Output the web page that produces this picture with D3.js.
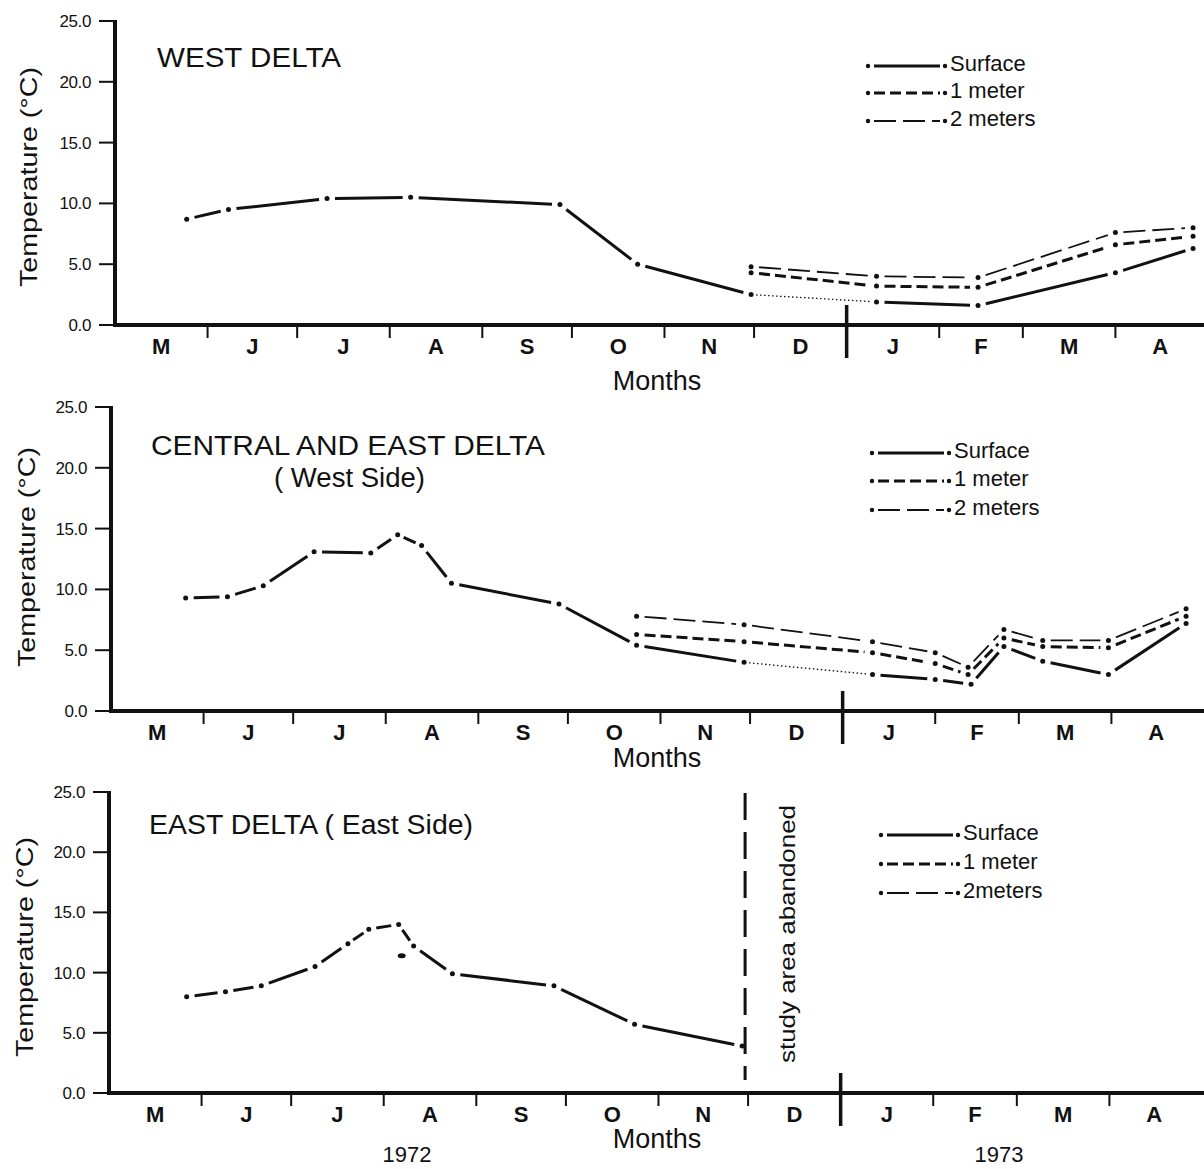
<!doctype html>
<html>
<head>
<meta charset="utf-8">
<title>Water temperature by depth</title>
<script src="https://cdnjs.cloudflare.com/ajax/libs/d3/7.8.5/d3.min.js"></script>
<style>
  html, body { margin: 0; padding: 0; background: #fff; }
  svg text { font-family: "Liberation Sans", Arial, sans-serif; fill: #111; }
</style>
</head>
<body>
<div id="chart"></div>
<script>
// ---- data ----
var monthLetters = ["M", "J", "J", "A", "S", "O", "N", "D", "J", "F", "M", "A"];
var tempTicks = [0, 5, 10, 15, 20, 25];
var yearLabels = ["1972", "1973"];

// west delta
var westSurfDates = ["1972-05-25", "1972-06-08", "1972-07-11", "1972-08-08", "1972-09-27", "1972-10-23",
                     "1972-11-30", "1973-01-11", "1973-02-14", "1973-04-01", "1973-04-27"];
var westSurf = [8.7, 9.5, 10.4, 10.5, 9.9, 5.0, 2.5, 1.9, 1.6, 4.3, 6.3];
var westSurfDotted = [6];   // segment index drawn dotted
var westDeepDates = ["1972-11-30", "1973-01-11", "1973-02-14", "1973-04-01", "1973-04-27"];
var west1m = [4.3, 3.2, 3.1, 6.6, 7.3];
var west2m = [4.8, 4.0, 3.9, 7.6, 8.0];

// central and east delta (west side)
var centSurfDates = ["1972-05-26", "1972-06-09", "1972-06-21", "1972-07-08", "1972-07-27", "1972-08-05",
                     "1972-08-13", "1972-08-23", "1972-09-28", "1972-10-24", "1972-11-29", "1973-01-11",
                     "1973-02-01", "1973-02-13", "1973-02-24", "1973-03-09", "1973-03-31", "1973-04-26"];
var centSurf = [9.3, 9.4, 10.3, 13.1, 13.0, 14.5, 13.6, 10.5, 8.8, 5.4, 4.0, 3.0, 2.6, 2.2, 5.3, 4.1, 3.0, 7.2];
var centSurfDotted = [10];
var centDeepDates = ["1972-10-24", "1972-11-29", "1973-01-11", "1973-02-01", "1973-02-12",
                     "1973-02-24", "1973-03-09", "1973-03-31", "1973-04-26"];
var cent1m = [6.3, 5.7, 4.8, 3.9, 3.0, 6.0, 5.3, 5.2, 7.8];
var cent2m = [7.8, 7.1, 5.7, 4.8, 3.6, 6.7, 5.8, 5.8, 8.4];

// east delta (east side)
var eastSurfDates = ["1972-05-27", "1972-06-09", "1972-06-21", "1972-07-09", "1972-07-20", "1972-07-27",
                     "1972-08-06", "1972-08-11", "1972-08-24", "1972-09-27", "1972-10-24", "1972-11-29"];
var eastSurf = [8.0, 8.4, 8.9, 10.5, 12.4, 13.6, 14.0, 12.2, 9.9, 8.9, 5.7, 3.9];
var eastStrayDate = ["1972-08-07"];
var eastStray = [11.4];
var abandonedDate = "1972-11-30";

// ---- drawing ----
var W = 1204, H = 1169;
var parse = d3.timeParse("%Y-%m-%d");
var start = new Date(1972, 4, 1), end = new Date(1973, 4, 1), jan = new Date(1973, 0, 1);

// line styles for the three depths
var styles = {
    surface: { width: 3, dash: null },
    m1: { width: 3, dash: "11 5" },
    m2: { width: 1.8, dash: "22 7" }
};

function series(dates, temps, style, dotted) {
    return {
        pts: dates.map(function (d, i) { return { date: parse(d), t: temps[i] }; }),
        style: style,
        dotted: dotted || []
    };
}

var svg = d3.select("#chart").append("svg")
    .attr("width", W).attr("height", H);
svg.append("rect").attr("width", W).attr("height", H).attr("fill", "#fff");

var panels = [
    {
        x0: 115, top: 21, bot: 325,
        title: [{ text: "WEST  DELTA", x: 157, y: 67, len: 184 }],
        legend: { x: 868, ys: [63, 90, 118], names: ["Surface", "1 meter", "2 meters"] },
        ylabelX: 37, ylabelY: 177,
        monthsY: 390,
        series: [
            series(westSurfDates, westSurf, "surface", westSurfDotted),
            series(westDeepDates, west1m, "m1"),
            series(westDeepDates, west2m, "m2")
        ]
    },
    {
        x0: 111, top: 407, bot: 711,
        title: [{ text: "CENTRAL  AND  EAST  DELTA", x: 151, y: 455, len: 394 },
                { text: "( West  Side)", x: 274, y: 487, len: 151 }],
        legend: { x: 872, ys: [450, 478, 507], names: ["Surface", "1 meter", "2 meters"] },
        ylabelX: 35, ylabelY: 557,
        monthsY: 767,
        series: [
            series(centSurfDates, centSurf, "surface", centSurfDotted),
            series(centDeepDates, cent1m, "m1"),
            series(centDeepDates, cent2m, "m2")
        ]
    },
    {
        x0: 109, top: 792, bot: 1093,
        title: [{ text: "EAST  DELTA  ( East  Side)", x: 149, y: 834, len: 324 }],
        legend: { x: 881, ys: [832, 861, 890], names: ["Surface", "1 meter", "2meters"] },
        ylabelX: 33, ylabelY: 947,
        monthsY: 1148,
        series: [series(eastSurfDates, eastSurf, "surface")],
        stray: { dates: eastStrayDate, temps: eastStray },
        abandoned: true,
        years: true
    }
];

panels.forEach(function (p) {
    var g = svg.append("g");
    var x = d3.scaleTime().domain([start, end]).range([p.x0, p.x0 + 1090]);
    var y = d3.scaleLinear().domain([0, 25]).range([p.bot, p.top]);

    // y axis
    g.append("line").attr("x1", p.x0).attr("x2", p.x0).attr("y1", p.top - 1).attr("y2", p.bot + 2)
        .attr("stroke", "#111").attr("stroke-width", 4);
    g.selectAll(".yt").data(tempTicks).enter().append("line")
        .attr("x1", p.x0 - 16).attr("x2", p.x0)
        .attr("y1", function (d) { return y(d); }).attr("y2", function (d) { return y(d); })
        .attr("stroke", "#111").attr("stroke-width", 2);
    g.selectAll(".yl").data(tempTicks).enter().append("text")
        .attr("x", p.x0 - 24).attr("y", function (d) { return y(d) + 6; })
        .attr("text-anchor", "end").attr("font-size", 17).attr("letter-spacing", -0.4)
        .text(d3.format(".1f"));

    // x axis
    g.append("line").attr("x1", p.x0 - 2).attr("x2", W).attr("y1", p.bot).attr("y2", p.bot)
        .attr("stroke", "#111").attr("stroke-width", 4);
    var monthStarts = d3.timeMonth.range(start, end);
    g.selectAll(".xt").data(monthStarts.slice(1).filter(function (d) { return +d !== +jan; }))
        .enter().append("line")
        .attr("x1", function (d) { return x(d); }).attr("x2", function (d) { return x(d); })
        .attr("y1", p.bot).attr("y2", p.bot + 13)
        .attr("stroke", "#111").attr("stroke-width", 2);
    g.append("line").attr("x1", x(jan)).attr("x2", x(jan))
        .attr("y1", p.bot - 20).attr("y2", p.bot + 33)
        .attr("stroke", "#111").attr("stroke-width", 3.5);
    g.selectAll(".xl").data(monthStarts).enter().append("text")
        .attr("x", function (d) { return (x(d) + x(d3.timeMonth.offset(d, 1))) / 2; })
        .attr("y", p.bot + 29)
        .attr("text-anchor", "middle").attr("font-size", 22).attr("font-weight", "bold")
        .text(function (d, i) { return monthLetters[i]; });
    g.append("text").attr("x", 657).attr("y", p.monthsY)
        .attr("text-anchor", "middle").attr("font-size", 27).text("Months");

    // y label
    g.append("text")
        .attr("transform", "translate(" + p.ylabelX + "," + p.ylabelY + ") rotate(-90)")
        .attr("text-anchor", "middle").attr("font-size", 24)
        .attr("textLength", 220).attr("lengthAdjust", "spacingAndGlyphs")
        .text("Temperature  (\u00B0C)");

    // title
    p.title.forEach(function (t) {
        g.append("text").attr("x", t.x).attr("y", t.y).attr("font-size", 27)
            .attr("textLength", t.len).attr("lengthAdjust", "spacingAndGlyphs")
            .text(t.text);
    });

    // legend
    ["surface", "m1", "m2"].forEach(function (k, i) {
        var ly = p.legend.ys[i], lx = p.legend.x, st = styles[k];
        g.append("circle").attr("cx", lx).attr("cy", ly + 3).attr("r", 2.2).attr("fill", "#111");
        g.append("line").attr("x1", lx + 6).attr("x2", lx + 72).attr("y1", ly + 3).attr("y2", ly + 3)
            .attr("stroke", "#111").attr("stroke-width", st.width)
            .attr("stroke-dasharray", st.dash);
        g.append("circle").attr("cx", lx + 77).attr("cy", ly + 3).attr("r", 2.2).attr("fill", "#111");
        g.append("text").attr("x", lx + 82).attr("y", ly + 8).attr("font-size", 22)
            .text(p.legend.names[i]);
    });

    // series: dots at observations, line pieces stopping short of each dot
    p.series.forEach(function (s) {
        var st = styles[s.style];
        var xy = s.pts.map(function (d) { return [x(d.date), y(d.t)]; });
        for (var i = 0; i < xy.length - 1; i++) {
            var a = xy[i], b = xy[i + 1];
            var dx = b[0] - a[0], dy = b[1] - a[1], len = Math.sqrt(dx * dx + dy * dy);
            var dotted = s.dotted.indexOf(i) >= 0;
            var gap = dotted ? 5 : Math.min(8, len / 4);
            var ux = dx / len, uy = dy / len;
            g.append("line")
                .attr("x1", a[0] + ux * gap).attr("y1", a[1] + uy * gap)
                .attr("x2", b[0] - ux * gap).attr("y2", b[1] - uy * gap)
                .attr("stroke", "#111")
                .attr("stroke-width", dotted ? 1.3 : st.width)
                .attr("stroke-dasharray", dotted ? "1.5 2.5" : st.dash);
        }
        g.selectAll(null).data(xy).enter().append("circle")
            .attr("cx", function (d) { return d[0]; }).attr("cy", function (d) { return d[1]; })
            .attr("r", 2.5).attr("fill", "#111");
    });

    if (p.stray) {
        g.selectAll(null).data(p.stray.dates).enter().append("ellipse")
            .attr("cx", function (d) { return x(parse(d)); })
            .attr("cy", function (d, i) { return y(p.stray.temps[i]); })
            .attr("rx", 4).attr("ry", 2.5).attr("fill", "#111");
    }

    if (p.abandoned) {
        var ax = x(parse(abandonedDate));
        g.append("line").attr("x1", ax).attr("x2", ax).attr("y1", p.top + 1).attr("y2", p.bot - 13)
            .attr("stroke", "#111").attr("stroke-width", 3).attr("stroke-dasharray", "27 12");
        g.append("text")
            .attr("transform", "translate(" + (ax + 50) + "," + 934 + ") rotate(-90)")
            .attr("text-anchor", "middle").attr("font-size", 22)
            .attr("textLength", 258).attr("lengthAdjust", "spacingAndGlyphs")
            .text("study  area  abandoned");
    }

    if (p.years) {
        g.selectAll(".yr").data(yearLabels).enter().append("text")
            .attr("x", function (d, i) { return i === 0 ? 407 : 999; })
            .attr("y", p.bot + 69)
            .attr("text-anchor", "middle").attr("font-size", 22)
            .text(function (d) { return d; });
    }
});
</script>
</body>
</html>
